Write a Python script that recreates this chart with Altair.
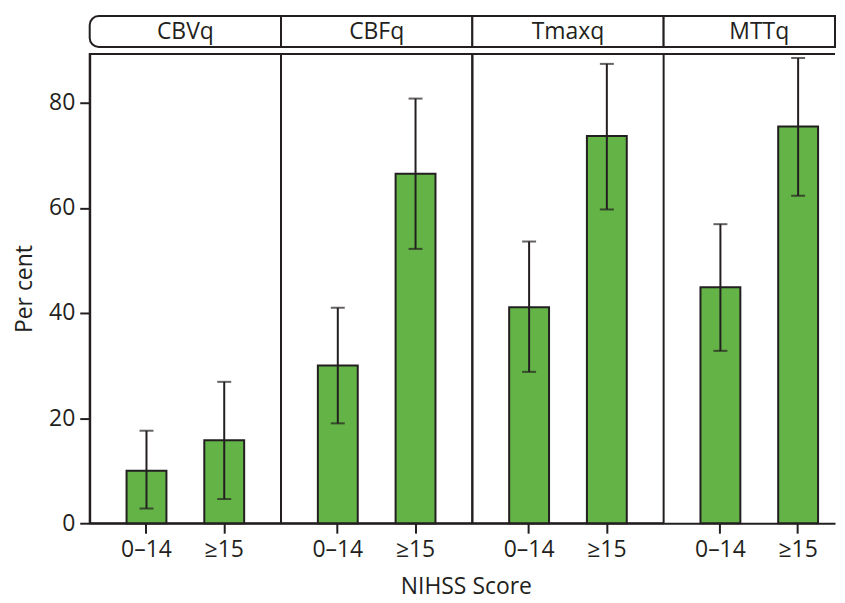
import altair as alt
import pandas as pd

measures = ["CBVq", "CBFq", "Tmaxq", "MTTq"]
groups = ["0–14", "≥15"]
values = {
    "CBVq": [10.0, 15.8],
    "CBFq": [30.0, 66.5],
    "Tmaxq": [41.1, 73.7],
    "MTTq": [44.9, 75.5],
}
lower = {
    "CBVq": [2.8, 4.6],
    "CBFq": [19.0, 52.2],
    "Tmaxq": [28.8, 59.7],
    "MTTq": [32.8, 62.3],
}
upper = {
    "CBVq": [17.6, 26.9],
    "CBFq": [41.0, 80.8],
    "Tmaxq": [53.6, 87.4],
    "MTTq": [56.9, 88.5],
}
y_ticks = [0, 20, 40, 60, 80]
x_title = "NIHSS Score"

FONT = "Open Sans"
FS = 23
INK = "#231f20"
GREEN = "#63b347"
H = 471

rows = []
for m in measures:
    for i, g in enumerate(groups):
        rows.append({"measure": m, "group": g, "value": values[m][i],
                     "lo": lower[m][i], "hi": upper[m][i]})
df = pd.DataFrame(rows)

panels = []
for k, m in enumerate(measures):
    last = k == len(measures) - 1
    W = 172 if last else 192
    if last:
        xscale = alt.Scale(domain=groups, paddingInner=0.487, paddingOuter=0.346, align=0.685)
    else:
        xscale = alt.Scale(domain=groups, paddingInner=0.487, paddingOuter=0.474)
    yscale = alt.Scale(domain=[0, 89.3], nice=False)
    if k == 0:
        yaxis = alt.Axis(values=y_ticks, title="Per cent", grid=False, tickSize=10,
                         tickColor=INK, tickWidth=2, domainColor=INK, domainWidth=2,
                         labelFont=FONT, labelFontSize=FS, labelColor=INK, labelPadding=5,
                         titleFont=FONT, titleFontSize=FS, titleFontWeight="normal",
                         titleColor=INK, titlePadding=12)
    else:
        yaxis = None
    xaxis = alt.Axis(title=None, labelAngle=0, tickSize=10, tickColor=INK, tickWidth=2,
                     domainColor=INK, domainWidth=2, labelFont=FONT, labelFontSize=FS,
                     labelColor=INK, labelPadding=5, grid=False)

    sub = df[df["measure"] == m]
    base = alt.Chart(sub)
    bars = base.mark_bar(fill=GREEN, stroke=INK, strokeWidth=2).encode(
        x=alt.X("group:N", scale=xscale, axis=xaxis, sort=groups),
        y=alt.Y("value:Q", scale=yscale, axis=yaxis),
    )
    err = base.mark_rule(color=INK, strokeWidth=2).encode(
        x=alt.X("group:N", scale=xscale, sort=groups),
        y=alt.Y("lo:Q", scale=yscale),
        y2="hi:Q",
    )
    cap_hi = base.mark_tick(color=INK, thickness=2, size=14).encode(
        x=alt.X("group:N", scale=xscale, sort=groups),
        y=alt.Y("hi:Q", scale=yscale),
    )
    cap_lo = base.mark_tick(color=INK, thickness=2, size=14).encode(
        x=alt.X("group:N", scale=xscale, sort=groups),
        y=alt.Y("lo:Q", scale=yscale),
    )
    hdr_df = pd.DataFrame({"measure": [m], "xt": [x_title]})
    hdr = alt.Chart(hdr_df)
    rect_kwargs = dict(fill="white", stroke=INK, strokeWidth=2)
    if k == 0:
        rect_kwargs.update(cornerRadiusTopLeft=9, cornerRadiusBottomLeft=9)
    hrect = hdr.mark_rect(**rect_kwargs).encode(
        x=alt.value(0), x2=alt.value(W), y=alt.value(-38), y2=alt.value(-7)
    )
    htext = hdr.mark_text(font=FONT, fontSize=FS, color=INK, baseline="middle",
                          align="center").encode(
        x=alt.value(96), y=alt.value(-22), text="measure:N"
    )
    layers = [hrect, htext, bars, err, cap_hi, cap_lo]
    if last:
        top = hdr.mark_rule(color=INK, strokeWidth=2).encode(
            x=alt.value(0), x2=alt.value(W), y=alt.value(0)
        )
        layers.append(top)
    if k == 2:
        xt = hdr.mark_text(font=FONT, fontSize=FS, color=INK, baseline="middle",
                           align="center").encode(
            x=alt.value(-6), y=alt.value(H + 64), text="xt:N"
        )
        layers.append(xt)
    p = alt.layer(*layers).properties(width=W, height=H)
    if last:
        p = p.properties(view=alt.ViewBackground(stroke="transparent"))
    else:
        p = p.properties(view=alt.ViewBackground(stroke=INK, strokeWidth=2))
    panels.append(p)

chart = alt.hconcat(*panels, spacing=0, bounds="flush").properties(
    padding={"left": 4, "top": 5, "right": 0, "bottom": 0},
).configure(background="white")

chart.save("out.html", embed_options={"renderer": "svg", "actions": False})
